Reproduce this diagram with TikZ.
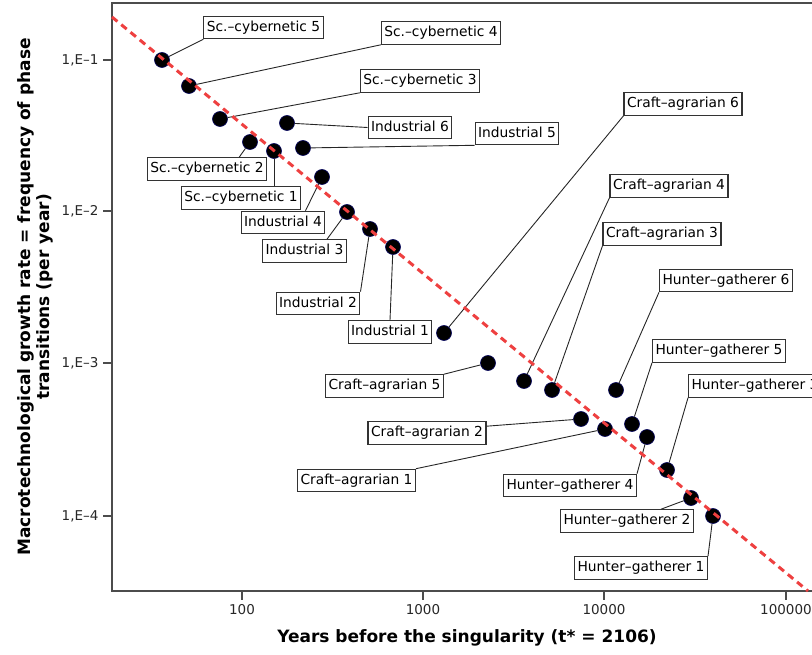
\documentclass[tikz,border=0pt]{standalone}
\usepackage{fontspec}
\setmainfont{DejaVu Sans}
\usetikzlibrary{calc}
\definecolor{trendred}{RGB}{238,64,64}
\tikzset{
% Styles for the scatter plot: points, name tags and the fitted line
solid node/.style={circle,draw=blue!35!black,line width=0.6,fill=black,minimum size=15,inner sep=0},
tag node/.style={draw=black!80,line width=1.1,fill=white,inner xsep=3,inner ysep=4.5,text height=10.5,text depth=3,font=\fontsize{13.8}{16}\selectfont},
tag line/.style={draw=black!85,line width=0.9},
trend line/.style={draw=trendred,line width=3,dash pattern=on 7pt off 5pt},
axis line/.style={draw=black!70,line width=2},
tick label/.style={font=\fontsize{13.5}{16}\selectfont,text=black!85}
}

\begin{document}
\begin{tikzpicture}[x=1pt,y=-1pt]
\clip (0,0) rectangle (812,655);
% Frame and ticks
\draw[axis line] (812,3) -- (112,3) -- (112,591) -- (812,591);
\foreach \lab/\yy in {1/60,2/211,3/363,4/516}{
\draw[axis line,line width=1.5] (103,\yy) -- (112,\yy);
\node(ytick\lab)[tick label,anchor=east] at (102,\yy) {1,E–\lab};
}
\foreach \lab/\xx in {100/242,1000/423,10000/604,100000/786}{
\draw[axis line,line width=1.5] (\xx,591) -- (\xx,600);
\node(xtick\lab)[tick label,anchor=north] at (\xx,601) {\lab};
}
% Axis titles
\node(xtitle)[font=\bfseries\fontsize{17}{20}\selectfont] at (467,638) {Years before the singularity (t* = 2106)};
\node(ytitle)[rotate=90,align=center,font=\bfseries\fontsize{17}{19}\selectfont] at (35,297)
{Macrotechnological growth rate = frequency of phase\\transitions (per year)};
% Name tags
\node(Lsc5)[tag node] at (263.5,27.5) {Sc.–cybernetic 5};
\node(Lsc4)[tag node] at (441,33) {Sc.–cybernetic 4};
\node(Lsc3)[tag node] at (420,81) {Sc.–cybernetic 3};
\node(Lsc2)[tag node] at (207,169) {Sc.–cybernetic 2};
\node(Lsc1)[tag node] at (241,198) {Sc.–cybernetic 1};
\node(Lin6)[tag node] at (410,127.5) {Industrial 6};
\node(Lin5)[tag node] at (517,133.5) {Industrial 5};
\node(Lin4)[tag node] at (283,222.5) {Industrial 4};
\node(Lin3)[tag node] at (304.5,251) {Industrial 3};
\node(Lin2)[tag node] at (318,303.5) {Industrial 2};
\node(Lin1)[tag node] at (390,332) {Industrial 1};
\node(Lca6)[tag node] at (683,104) {Craft–agrarian 6};
\node(Lca5)[tag node] at (384.5,386) {Craft–agrarian 5};
\node(Lca4)[tag node] at (669,186) {Craft–agrarian 4};
\node(Lca3)[tag node] at (662,234) {Craft–agrarian 3};
\node(Lca2)[tag node] at (427,433) {Craft–agrarian 2};
\node(Lca1)[tag node] at (356.5,480.5) {Craft–agrarian 1};
\node(Lhg6)[tag node] at (726,280.5) {Hunter–gatherer 6};
\node(Lhg5)[tag node] at (719,351) {Hunter–gatherer 5};
\node(Lhg4)[tag node] at (570,485.5) {Hunter–gatherer 4};
\node(Lhg3)[tag node] at (755,386) {Hunter–gatherer 3};
\node(Lhg2)[tag node] at (627,521) {Hunter–gatherer 2};
\node(Lhg1)[tag node] at (641,568) {Hunter–gatherer 1};
% Data points
\node(sc5)[solid node] at (162,60) {};
\node(sc4)[solid node] at (189,86) {};
\node(sc3)[solid node] at (220,119) {};
\node(sc2)[solid node] at (250,142) {};
\node(sc1)[solid node] at (274,151) {};
\node(in6)[solid node] at (287,123) {};
\node(in5)[solid node] at (303,148) {};
\node(in4)[solid node] at (322,177) {};
\node(in3)[solid node] at (347,212) {};
\node(in2)[solid node] at (370,229) {};
\node(in1)[solid node] at (393,247) {};
\node(ca6)[solid node] at (444,333) {};
\node(ca5)[solid node] at (488,363) {};
\node(ca4)[solid node] at (524,381) {};
\node(ca3)[solid node] at (552,390) {};
\node(ca2)[solid node] at (581,419) {};
\node(ca1)[solid node] at (605,429) {};
\node(hg6)[solid node] at (616,390) {};
\node(hg5)[solid node] at (632,424) {};
\node(hg4)[solid node] at (647,437) {};
\node(hg3)[solid node] at (667,470) {};
\node(hg2)[solid node] at (691,498) {};
\node(hg1)[solid node] at (713,516) {};
% Leader lines from tags to points
\draw[tag line] (Lsc5.south west) -- (sc5);
\draw[tag line] (Lsc4.south west) -- (sc4);
\draw[tag line] (Lsc3.south west) -- (sc3);
\draw[tag line] ([xshift=-28pt]Lsc2.north east) -- (sc2);
\draw[tag line] (sc1 |- Lsc1.north) -- (sc1);
\draw[tag line] (Lin6.west) -- (in6);
\draw[tag line] (Lin5.south west) -- (in5);
\draw[tag line] ([xshift=-20pt]Lin4.north east) -- (in4);
\draw[tag line] ([xshift=-20pt]Lin3.north east) -- (in3);
\draw[tag line] (Lin2.north east) -- (in2);
\draw[tag line] (Lin1.north) -- (in1);
\draw[tag line] (Lca6.south west) -- (ca6);
\draw[tag line] (Lca5.north east) -- (ca5);
\draw[tag line] (Lca4.south west) -- (ca4);
\draw[tag line] (Lca3.south west) -- (ca3);
\draw[tag line] ([yshift=-5pt]Lca2.north east) -- (ca2);
\draw[tag line] (Lca1.north east) -- (ca1);
\draw[tag line] (Lhg6.south west) -- (hg6);
\draw[tag line] (Lhg5.south west) -- (hg5);
\draw[tag line] (Lhg4.north east) -- (hg4);
\draw[tag line] (Lhg3.south west) -- (hg3);
\draw[tag line] ([xshift=34pt]Lhg2.north) -- (hg2);
\draw[tag line] (Lhg1.north east) -- (hg1);
% Fitted line
\coordinate(fitA) at (112,17);
\coordinate(fitB) at (808,591);
\draw[trend line] (fitA) -- (fitB);
\end{tikzpicture}
\end{document}
